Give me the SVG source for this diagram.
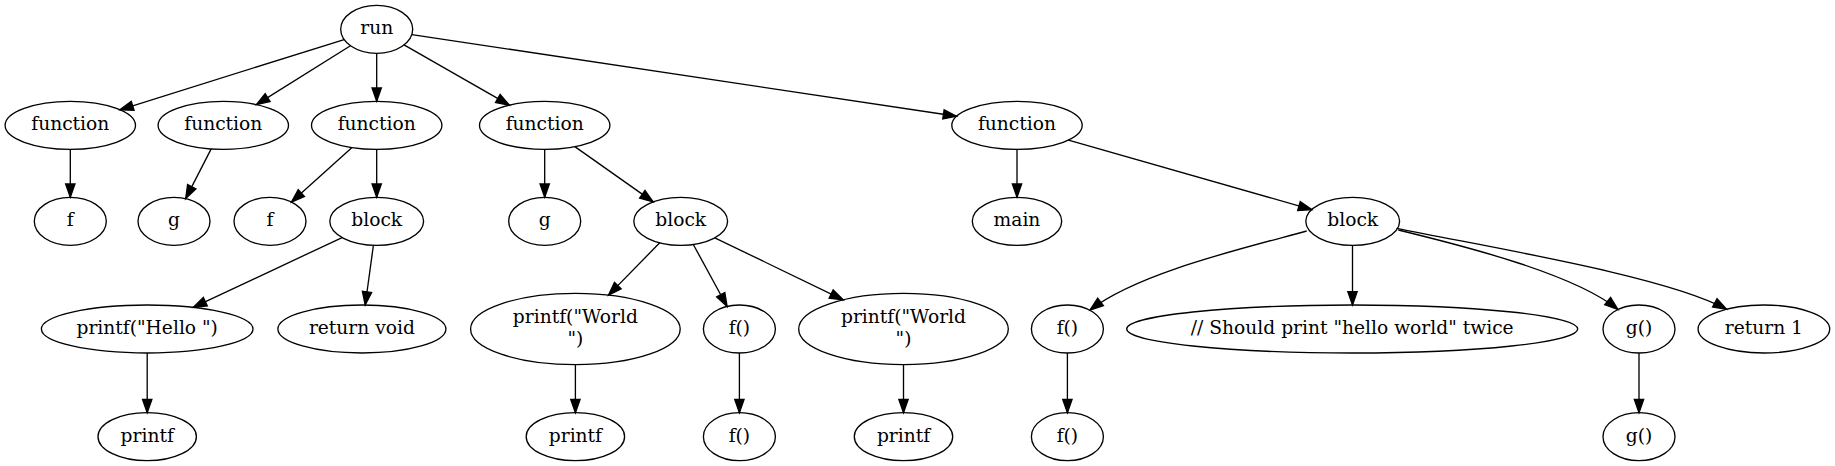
<svg xmlns="http://www.w3.org/2000/svg" width="1835" height="466" viewBox="0 0 1835 466">
<defs>
<marker id="arr" markerUnits="userSpaceOnUse" markerWidth="16" markerHeight="12" refX="0" refY="0" orient="auto" overflow="visible">
<path d="M0,0 L-13.33,-4.67 L-13.33,4.67 Z" fill="#000" stroke="#000" stroke-width="1.33"/>
</marker>
</defs>
<style>
.n ellipse{fill:none;stroke:#000;stroke-width:1.33}
.n text{font-family:"DejaVu Serif","Liberation Serif",serif;font-size:18.67px;text-anchor:middle;fill:#000}
#edges path{fill:none;stroke:#000;stroke-width:1.33;marker-end:url(#arr)}
</style>
<rect width="1835" height="466" fill="#fff"/>
<g id="edges">
<path d="M344.12,39.54 L119.95,109.77"/>
<path d="M350.45,45.76 L256.36,104.64"/>
<path d="M376.7,53.33 L376.7,101.33"/>
<path d="M404.03,44.95 L509.39,105.15"/>
<path d="M411.83,34.6 L956.62,116.28"/>
<path d="M70.3,149.33 L70.3,197.33"/>
<path d="M211.19,148.91 L185.66,198.63"/>
<path d="M352.01,147.54 L291.43,202.05"/>
<path d="M376.7,149.33 L376.7,197.33"/>
<path d="M544.7,149.33 L544.7,197.33"/>
<path d="M574.85,146.61 L653.17,201.9"/>
<path d="M1017,149.33 L1017,197.33"/>
<path d="M1068.5,140.05 L1311.76,209.62"/>
<path d="M342.13,237.55 L193.26,307.39"/>
<path d="M373.41,245.27 L365.2,305.02"/>
<path d="M147.2,353 L147.2,412.67"/>
<path d="M659.71,242.79 L608.5,295.16"/>
<path d="M693.3,244.45 L727.1,306.45"/>
<path d="M714.8,237.81 L843.15,299.84"/>
<path d="M575.4,364.67 L575.4,412.67"/>
<path d="M739.4,353 L739.4,412.67"/>
<path d="M903.5,364.67 L903.5,412.67"/>
<path d="M1306.7,231 C1236.7,250 1137.4,273.4 1090,310"/>
<path d="M1352.5,245.33 L1352.5,305"/>
<path d="M1398.3,230 C1468.3,247 1575,274.5 1618,309.5"/>
<path d="M1396.7,228.3 C1486.7,247 1664.9,275.6 1726.5,309.2"/>
<path d="M1067.4,353 L1067.4,412.67"/>
<path d="M1639,353 L1639,412.67"/>
</g>
<g id="run" class="n"><ellipse cx="376.7" cy="29.33" rx="36" ry="24"/><text x="376.7" y="34.3">run</text></g>
<g id="fn1" class="n"><ellipse cx="70.3" cy="125.33" rx="65.2" ry="24"/><text x="70.3" y="130.3">function</text></g>
<g id="fn2" class="n"><ellipse cx="223.3" cy="125.33" rx="65.2" ry="24"/><text x="223.3" y="130.3">function</text></g>
<g id="fn3" class="n"><ellipse cx="376.7" cy="125.33" rx="65.2" ry="24"/><text x="376.7" y="130.3">function</text></g>
<g id="fn4" class="n"><ellipse cx="544.7" cy="125.33" rx="65.2" ry="24"/><text x="544.7" y="130.3">function</text></g>
<g id="fn5" class="n"><ellipse cx="1017" cy="125.33" rx="65.2" ry="24"/><text x="1017" y="130.3">function</text></g>
<g id="f1" class="n"><ellipse cx="70.3" cy="221.33" rx="36" ry="24"/><text x="70.3" y="226.3">f</text></g>
<g id="g1" class="n"><ellipse cx="174" cy="221.33" rx="36" ry="24"/><text x="174" y="226.3">g</text></g>
<g id="f2" class="n"><ellipse cx="270" cy="221.33" rx="36" ry="24"/><text x="270" y="226.3">f</text></g>
<g id="block1" class="n"><ellipse cx="376.7" cy="221.33" rx="46.9" ry="24"/><text x="376.7" y="226.3">block</text></g>
<g id="g2" class="n"><ellipse cx="544.7" cy="221.33" rx="36" ry="24"/><text x="544.7" y="226.3">g</text></g>
<g id="block2" class="n"><ellipse cx="680.7" cy="221.33" rx="46.9" ry="24"/><text x="680.7" y="226.3">block</text></g>
<g id="main" class="n"><ellipse cx="1017" cy="221.33" rx="44.7" ry="24"/><text x="1017" y="226.3">main</text></g>
<g id="block3" class="n"><ellipse cx="1352.7" cy="221.33" rx="46.9" ry="24"/><text x="1352.7" y="226.3">block</text></g>
<g id="printfHello" class="n"><ellipse cx="147.2" cy="329" rx="105.8" ry="24"/><text x="147.2" y="334">printf("Hello ")</text></g>
<g id="returnVoid" class="n"><ellipse cx="361.9" cy="329" rx="84" ry="24"/><text x="361.9" y="334">return void</text></g>
<g id="printfWorld1" class="n"><ellipse cx="575.4" cy="329" rx="104.8" ry="35.67"/><text x="575.4" y="323">printf("World</text><text x="575.4" y="345.4">")</text></g>
<g id="fcall1" class="n"><ellipse cx="739.4" cy="329" rx="36" ry="24"/><text x="739.4" y="334">f()</text></g>
<g id="printfWorld2" class="n"><ellipse cx="903.5" cy="329" rx="104.8" ry="35.67"/><text x="903.5" y="323">printf("World</text><text x="903.5" y="345.4">")</text></g>
<g id="fcall2" class="n"><ellipse cx="1067.4" cy="329" rx="36" ry="24"/><text x="1067.4" y="334">f()</text></g>
<g id="comment" class="n"><ellipse cx="1352.2" cy="329" rx="225.5" ry="24"/><text x="1352.2" y="334">// Should print "hello world" twice</text></g>
<g id="gcall" class="n"><ellipse cx="1639" cy="329" rx="36" ry="24"/><text x="1639" y="334">g()</text></g>
<g id="return1" class="n"><ellipse cx="1763.9" cy="329" rx="65.8" ry="24"/><text x="1763.9" y="334">return 1</text></g>
<g id="printfB1" class="n"><ellipse cx="147.2" cy="436.67" rx="49.2" ry="24"/><text x="147.2" y="441.6">printf</text></g>
<g id="printfB2" class="n"><ellipse cx="575.4" cy="436.67" rx="49.2" ry="24"/><text x="575.4" y="441.6">printf</text></g>
<g id="fB1" class="n"><ellipse cx="739.4" cy="436.67" rx="36" ry="24"/><text x="739.4" y="441.6">f()</text></g>
<g id="printfB3" class="n"><ellipse cx="903.5" cy="436.67" rx="49.2" ry="24"/><text x="903.5" y="441.6">printf</text></g>
<g id="fB2" class="n"><ellipse cx="1067.4" cy="436.67" rx="36" ry="24"/><text x="1067.4" y="441.6">f()</text></g>
<g id="gB" class="n"><ellipse cx="1639" cy="436.67" rx="36" ry="24"/><text x="1639" y="441.6">g()</text></g>
</svg>
